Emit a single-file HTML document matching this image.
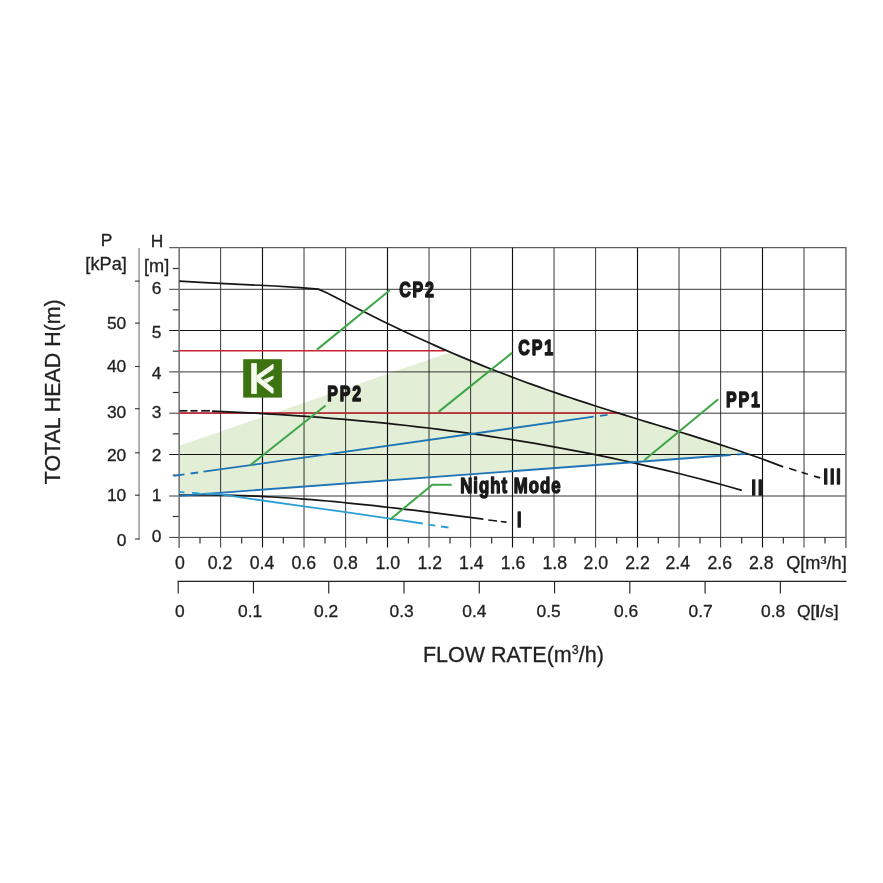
<!DOCTYPE html>
<html><head><meta charset="utf-8"><title>Pump curve</title>
<style>html,body{margin:0;padding:0;background:#fff}svg{display:block}text{filter:grayscale(1)}</style></head>
<body>
<svg width="883" height="883" viewBox="0 0 883 883">
<rect width="883" height="883" fill="#fff"/>
<polygon points="179.2,445.8 450.5,352.3 458.1,355.5 465.7,358.7 473.3,361.9 481.0,365.0 488.6,368.0 496.2,371.0 503.8,374.0 511.4,376.9 519.0,379.7 526.6,382.5 534.2,385.3 541.9,388.0 549.5,390.6 557.1,393.2 564.7,395.8 572.3,398.4 579.9,400.9 587.5,403.4 595.1,405.8 602.8,408.2 610.4,410.6 618.0,413.0 625.6,415.4 633.2,417.7 640.8,420.0 648.4,422.4 656.0,424.7 663.7,427.0 671.3,429.3 678.9,431.6 686.5,434.0 694.1,436.3 701.7,438.7 709.3,441.1 716.9,443.6 724.6,446.0 732.2,448.5 739.8,451.1 747.4,453.7 179.2,495.8" fill="#e2eed5"/>
<g fill="none">
<line x1="220.64" y1="247.8" x2="220.64" y2="547.6" stroke="#1c1c1c" stroke-width="0.88"/>
<line x1="262.50" y1="247.8" x2="262.50" y2="547.6" stroke="#111" stroke-width="1.15"/>
<line x1="304.02" y1="247.8" x2="304.02" y2="547.6" stroke="#1c1c1c" stroke-width="0.88"/>
<line x1="345.64" y1="247.8" x2="345.64" y2="547.6" stroke="#1c1c1c" stroke-width="0.88"/>
<line x1="387.50" y1="247.8" x2="387.50" y2="547.6" stroke="#111" stroke-width="1.15"/>
<line x1="429.02" y1="247.8" x2="429.02" y2="547.6" stroke="#1c1c1c" stroke-width="0.88"/>
<line x1="470.64" y1="247.8" x2="470.64" y2="547.6" stroke="#1c1c1c" stroke-width="0.88"/>
<line x1="512.50" y1="247.8" x2="512.50" y2="547.6" stroke="#111" stroke-width="1.15"/>
<line x1="554.02" y1="247.8" x2="554.02" y2="547.6" stroke="#1c1c1c" stroke-width="0.88"/>
<line x1="595.64" y1="247.8" x2="595.64" y2="547.6" stroke="#1c1c1c" stroke-width="0.88"/>
<line x1="637.50" y1="247.8" x2="637.50" y2="547.6" stroke="#111" stroke-width="1.15"/>
<line x1="679.02" y1="247.8" x2="679.02" y2="547.6" stroke="#1c1c1c" stroke-width="0.88"/>
<line x1="720.64" y1="247.8" x2="720.64" y2="547.6" stroke="#1c1c1c" stroke-width="0.88"/>
<line x1="762.50" y1="247.8" x2="762.50" y2="547.6" stroke="#111" stroke-width="1.15"/>
<line x1="804.02" y1="247.8" x2="804.02" y2="547.6" stroke="#1c1c1c" stroke-width="0.88"/>
<line x1="169.2" y1="537.40" x2="846.4" y2="537.40" stroke="#1c1c1c" stroke-width="0.88"/>
<line x1="169.2" y1="496.00" x2="846.4" y2="496.00" stroke="#1c1c1c" stroke-width="0.88"/>
<line x1="169.2" y1="454.50" x2="846.4" y2="454.50" stroke="#111" stroke-width="1.15"/>
<line x1="169.2" y1="413.20" x2="846.4" y2="413.20" stroke="#1c1c1c" stroke-width="0.88"/>
<line x1="169.2" y1="371.90" x2="846.4" y2="371.90" stroke="#1c1c1c" stroke-width="0.88"/>
<line x1="169.2" y1="330.50" x2="846.4" y2="330.50" stroke="#111" stroke-width="1.15"/>
<line x1="169.2" y1="289.30" x2="846.4" y2="289.30" stroke="#1c1c1c" stroke-width="0.88"/>
<line x1="169.2" y1="247.70" x2="846.4" y2="247.70" stroke="#1c1c1c" stroke-width="0.88"/>
</g>
<g stroke="#2a2a2a" stroke-width="1.15" fill="none">
<line x1="200.00" y1="537.2" x2="200.00" y2="543.4"/>
<line x1="241.67" y1="537.2" x2="241.67" y2="543.4"/>
<line x1="283.34" y1="537.2" x2="283.34" y2="543.4"/>
<line x1="325.00" y1="537.2" x2="325.00" y2="543.4"/>
<line x1="366.67" y1="537.2" x2="366.67" y2="543.4"/>
<line x1="408.34" y1="537.2" x2="408.34" y2="543.4"/>
<line x1="450.00" y1="537.2" x2="450.00" y2="543.4"/>
<line x1="491.67" y1="537.2" x2="491.67" y2="543.4"/>
<line x1="533.34" y1="537.2" x2="533.34" y2="543.4"/>
<line x1="575.00" y1="537.2" x2="575.00" y2="543.4"/>
<line x1="616.67" y1="537.2" x2="616.67" y2="543.4"/>
<line x1="658.34" y1="537.2" x2="658.34" y2="543.4"/>
<line x1="700.00" y1="537.2" x2="700.00" y2="543.4"/>
<line x1="741.67" y1="537.2" x2="741.67" y2="543.4"/>
<line x1="783.34" y1="537.2" x2="783.34" y2="543.4"/>
<line x1="825.00" y1="537.2" x2="825.00" y2="543.4"/>
<line x1="172.8" y1="516.50" x2="179.2" y2="516.50"/>
<line x1="172.8" y1="475.17" x2="179.2" y2="475.17"/>
<line x1="172.8" y1="433.84" x2="179.2" y2="433.84"/>
<line x1="172.8" y1="392.50" x2="179.2" y2="392.50"/>
<line x1="172.8" y1="351.17" x2="179.2" y2="351.17"/>
<line x1="172.8" y1="309.84" x2="179.2" y2="309.84"/>
<line x1="172.8" y1="268.51" x2="179.2" y2="268.51"/>
</g>
<g stroke="#787878" stroke-width="1.65" fill="none">
<line x1="179.17" y1="247.2" x2="179.17" y2="548"/>
<line x1="845.9" y1="247.2" x2="845.9" y2="548"/>
</g>
<g stroke="#8c8c8c" stroke-width="1.35" fill="none">
<line x1="139.1" y1="248" x2="139.1" y2="539.6"/>
</g>
<g stroke="#333" stroke-width="1.1" fill="none">
<line x1="135" y1="539.00" x2="139.6" y2="539.00"/>
<line x1="135" y1="495.20" x2="139.6" y2="495.20"/>
<line x1="135" y1="452.80" x2="139.6" y2="452.80"/>
<line x1="135" y1="408.70" x2="139.6" y2="408.70"/>
<line x1="135" y1="366.50" x2="139.6" y2="366.50"/>
<line x1="135" y1="323.10" x2="139.6" y2="323.10"/>
<line x1="135" y1="281.10" x2="139.6" y2="281.10"/>
</g>
<g stroke="#222" stroke-width="1.15" fill="none">
<line x1="177.7" y1="581.3" x2="846.4" y2="581.3"/>
<line x1="178.20" y1="581.3" x2="178.20" y2="593.4"/>
<line x1="253.47" y1="581.3" x2="253.47" y2="593.4"/>
<line x1="328.74" y1="581.3" x2="328.74" y2="593.4"/>
<line x1="404.01" y1="581.3" x2="404.01" y2="593.4"/>
<line x1="479.28" y1="581.3" x2="479.28" y2="593.4"/>
<line x1="554.55" y1="581.3" x2="554.55" y2="593.4"/>
<line x1="629.82" y1="581.3" x2="629.82" y2="593.4"/>
<line x1="705.09" y1="581.3" x2="705.09" y2="593.4"/>
<line x1="780.36" y1="581.3" x2="780.36" y2="593.4"/>
</g>
<g stroke="#cb2233" stroke-width="1.6" fill="none">
<line x1="179.17" y1="350.7" x2="444.70" y2="350.7"/>
<line x1="179.17" y1="413.0" x2="619.80" y2="413.0"/>
</g>
<g stroke="#161616" stroke-width="1.7" fill="none" stroke-linejoin="round">
<polyline points="179.2,281.2 205.0,282.6 240.0,284.3 275.0,286.0 300.0,287.6 318.2,289.1 318.2,289.1 326.1,292.5 334.0,296.6 341.8,300.6 349.7,304.7 357.6,308.7 365.5,312.6 373.4,316.5 381.3,320.4 389.1,324.2 397.0,328.0 404.9,331.7 412.8,335.4 420.7,339.0 428.5,342.6 436.4,346.1 444.3,349.6 452.2,353.0 460.1,356.4 467.9,359.6 475.8,362.9 483.7,366.1 491.6,369.2 499.5,372.3 507.4,375.3 515.2,378.3 523.1,381.2 531.0,384.1 538.9,386.9 546.8,389.7 554.6,392.4 562.5,395.1 570.4,397.7 578.3,400.4 586.2,402.9 594.0,405.5 601.9,408.0 609.8,410.5 617.7,412.9 625.6,415.4 633.5,417.8 641.3,420.2 649.2,422.6 657.1,425.0 665.0,427.4 672.9,429.8 680.7,432.2 688.6,434.6 696.5,437.1 704.4,439.6 712.3,442.1 720.1,444.6 728.0,447.2 735.9,449.8 743.8,452.5 751.7,455.2 759.6,458.0 767.4,460.9 775.3,463.9 783.2,466.9"/>
<line x1="789.1" y1="468.3" x2="796.4" y2="470.7"/>
<line x1="801.6" y1="472.3" x2="807.8" y2="474.2"/>
<line x1="814.0" y1="476.1" x2="820.2" y2="477.9"/>
<line x1="179.6" y1="410.8" x2="187.4" y2="410.8"/>
<line x1="190.4" y1="410.8" x2="197.6" y2="410.8"/>
<line x1="201.2" y1="410.8" x2="209.9" y2="410.8"/>
<polyline points="212.0,411.1 222.8,411.6 233.6,412.1 244.4,412.6 255.2,413.2 266.1,413.8 276.9,414.4 287.7,415.1 298.5,415.9 309.3,416.6 320.1,417.4 330.9,418.3 341.7,419.2 352.6,420.1 363.4,421.1 374.2,422.1 385.0,423.2 395.8,424.4 406.6,425.5 417.4,426.8 428.2,428.0 439.1,429.4 449.9,430.8 460.7,432.2 471.5,433.7 482.3,435.2 493.1,436.8 503.9,438.5 514.7,440.2 525.6,441.9 536.4,443.7 547.2,445.6 558.0,447.6 568.8,449.6 579.6,451.6 590.4,453.7 601.2,455.9 612.1,458.2 622.9,460.5 633.7,462.9 644.5,465.3 655.3,467.8 666.1,470.4 676.9,473.0 687.7,475.7 698.6,478.5 709.4,481.4 720.2,484.3 731.0,487.3 741.8,490.4"/>
<polyline points="179.2,495.2 187.0,495.1 194.8,495.0 202.6,495.0 210.4,495.0 218.2,495.1 226.0,495.2 233.8,495.4 241.6,495.6 249.4,495.9 257.2,496.2 265.0,496.6 272.8,497.0 280.6,497.5 288.4,498.0 296.2,498.5 304.0,499.1 311.8,499.7 319.6,500.4 327.4,501.0 335.2,501.7 343.0,502.5 350.8,503.3 358.6,504.1 366.4,504.9 374.2,505.7 382.0,506.6 389.8,507.5 397.6,508.4 405.4,509.3 413.2,510.2 421.0,511.2 428.8,512.2 436.6,513.1 444.4,514.1 452.2,515.1 460.0,516.1 467.8,517.1 475.6,518.2 483.4,519.2"/>
<line x1="488.3" y1="520.0" x2="497.1" y2="521.0"/>
<line x1="500.8" y1="521.5" x2="506.5" y2="522.2"/>
</g>
<g stroke="#1f74b6" stroke-width="1.8" fill="none">
<line x1="173.6" y1="475.9" x2="184.5" y2="474.4"/>
<line x1="190.6" y1="473.5" x2="198.1" y2="472.5"/>
<line x1="203.5" y1="471.7" x2="593.7" y2="416.7"/>
<line x1="599.9" y1="415.8" x2="607.4" y2="414.8"/>
<line x1="179.2" y1="495.8" x2="730.7" y2="455.0"/>
<line x1="737.0" y1="454.5" x2="745.6" y2="453.9"/>
</g>
<g stroke="#2c9fd6" stroke-width="1.8" fill="none">
<line x1="179" y1="491.9" x2="184.5" y2="492.4"/>
<line x1="192" y1="492.9" x2="199.4" y2="493.5"/>
<polyline points="205,493.6 220.6,494.4 262.4,500.5 304,506.3 345.7,512.2 390,518.6 422.8,523.5"/>
<line x1="428.6" y1="524.7" x2="435.3" y2="525.7"/>
<line x1="441" y1="526.5" x2="448.5" y2="527.5"/>
</g>
<g stroke="#3da647" stroke-width="2" fill="none">
<line x1="317" y1="349.6" x2="389.8" y2="290.3"/>
<line x1="438.5" y1="411.9" x2="512" y2="352.9"/>
<line x1="250.5" y1="465" x2="325.6" y2="405.5"/>
<line x1="644.2" y1="460.3" x2="718.2" y2="399.3"/>
<polyline points="389.9,519.7 432.3,484.8 451.7,484.8"/>
</g>
<rect x="243.2" y="359.2" width="38.7" height="38.4" fill="#3c7210"/>
<g fill="#f6fdf0">
<rect x="251.2" y="363.1" width="5.6" height="30.8"/>
<polygon points="256.7,375.14 272.68,363.95 273.54,363.95 273.54,369.11 260.63,378.37 273.54,388.27 273.54,393.43 271.82,393.43 256.7,381.38"/>
<polygon points="263.0,379.8 273.54,375.4 273.54,378.6 266.8,383.3"/>
</g>
<text transform="translate(399.2,297.0) scale(0.740,1)" font-family="Liberation Sans, sans-serif" font-weight="bold" font-size="21.6" letter-spacing="2.5" fill="#1a1a1a" stroke="#1a1a1a" stroke-width="1.3" vector-effect="non-scaling-stroke" stroke-linejoin="round">CP2</text>
<text transform="translate(518.3,355.3) scale(0.740,1)" font-family="Liberation Sans, sans-serif" font-weight="bold" font-size="21.6" letter-spacing="2.5" fill="#1a1a1a" stroke="#1a1a1a" stroke-width="1.3" vector-effect="non-scaling-stroke" stroke-linejoin="round">CP1</text>
<text transform="translate(327.2,401.1) scale(0.740,1)" font-family="Liberation Sans, sans-serif" font-weight="bold" font-size="21.6" letter-spacing="2.5" fill="#1a1a1a" stroke="#1a1a1a" stroke-width="1.3" vector-effect="non-scaling-stroke" stroke-linejoin="round">PP2</text>
<text transform="translate(725.9,407.0) scale(0.740,1)" font-family="Liberation Sans, sans-serif" font-weight="bold" font-size="21.6" letter-spacing="2.5" fill="#1a1a1a" stroke="#1a1a1a" stroke-width="1.3" vector-effect="non-scaling-stroke" stroke-linejoin="round">PP1</text>
<text transform="translate(460.2,493.4) scale(0.790,1)" font-family="Liberation Sans, sans-serif" font-weight="bold" font-size="21.2" letter-spacing="1.3" fill="#1a1a1a" stroke="#1a1a1a" stroke-width="1.3" vector-effect="non-scaling-stroke" stroke-linejoin="round">Night Mode</text>
<text transform="translate(517.1,526.9) scale(0.740,1)" font-family="Liberation Sans, sans-serif" font-weight="bold" font-size="21.6" letter-spacing="2.5" fill="#1a1a1a" stroke="#1a1a1a" stroke-width="1.3" vector-effect="non-scaling-stroke" stroke-linejoin="round">I</text>
<text transform="translate(751.6,495.0) scale(0.740,1)" font-family="Liberation Sans, sans-serif" font-weight="bold" font-size="21.6" letter-spacing="2.6" fill="#1a1a1a" stroke="#1a1a1a" stroke-width="1.3" vector-effect="non-scaling-stroke" stroke-linejoin="round">II</text>
<text transform="translate(823.6,483.8) scale(0.740,1)" font-family="Liberation Sans, sans-serif" font-weight="bold" font-size="21.6" letter-spacing="2.6" fill="#1a1a1a" stroke="#1a1a1a" stroke-width="1.3" vector-effect="non-scaling-stroke" stroke-linejoin="round">III</text>
<g font-family="Liberation Sans, sans-serif" font-size="17.4" fill="#222" stroke="#222" stroke-width="0.3">
<text x="156.6" y="542.4" text-anchor="middle">0</text>
<text x="156.6" y="501.0" text-anchor="middle">1</text>
<text x="156.6" y="461.0" text-anchor="middle">2</text>
<text x="156.6" y="417.9" text-anchor="middle">3</text>
<text x="156.6" y="379.3" text-anchor="middle">4</text>
<text x="156.6" y="338.4" text-anchor="middle">5</text>
<text x="156.6" y="294.3" text-anchor="middle">6</text>
<text x="126.3" y="546.0" text-anchor="end">0</text>
<text x="126.3" y="501.0" text-anchor="end">10</text>
<text x="126.3" y="461.1" text-anchor="end">20</text>
<text x="126.3" y="417.5" text-anchor="end">30</text>
<text x="126.3" y="372.2" text-anchor="end">40</text>
<text x="126.3" y="328.7" text-anchor="end">50</text>
<text x="106.6" y="245.8" text-anchor="middle">P</text>
<text x="106.1" y="270" text-anchor="middle" font-size="18.2">[kPa]</text>
<text x="157" y="247.2" text-anchor="middle">H</text>
<text x="156.7" y="272" text-anchor="middle" font-size="18.2">[m]</text>
<text x="179.8" y="568.6" text-anchor="middle" font-size="17.7">0</text>
<text x="220.0" y="568.6" text-anchor="middle" font-size="17.7">0.2</text>
<text x="262.0" y="568.6" text-anchor="middle" font-size="17.7">0.4</text>
<text x="303.8" y="568.6" text-anchor="middle" font-size="17.7">0.6</text>
<text x="345.5" y="568.6" text-anchor="middle" font-size="17.7">0.8</text>
<text x="387.8" y="568.6" text-anchor="middle" font-size="17.7">1.0</text>
<text x="429.8" y="568.6" text-anchor="middle" font-size="17.7">1.2</text>
<text x="471.4" y="568.6" text-anchor="middle" font-size="17.7">1.4</text>
<text x="513.1" y="568.6" text-anchor="middle" font-size="17.7">1.6</text>
<text x="554.8" y="568.6" text-anchor="middle" font-size="17.7">1.8</text>
<text x="595.9" y="568.6" text-anchor="middle" font-size="17.7">2.0</text>
<text x="637.5" y="568.6" text-anchor="middle" font-size="17.7">2.2</text>
<text x="677.8" y="568.6" text-anchor="middle" font-size="17.7">2.4</text>
<text x="719.7" y="568.6" text-anchor="middle" font-size="17.7">2.6</text>
<text x="761.2" y="568.6" text-anchor="middle" font-size="17.7">2.8</text>
<text x="846.8" y="568.6" text-anchor="end" font-size="18.2">Q[m³/h]</text>
<text x="179.8" y="617.2" text-anchor="middle">0</text>
<text x="250.1" y="617.2" text-anchor="middle">0.1</text>
<text x="326.1" y="617.2" text-anchor="middle">0.2</text>
<text x="401.7" y="617.2" text-anchor="middle">0.3</text>
<text x="474.4" y="617.2" text-anchor="middle">0.4</text>
<text x="548.6" y="617.2" text-anchor="middle">0.5</text>
<text x="626.2" y="617.2" text-anchor="middle">0.6</text>
<text x="700.6" y="617.2" text-anchor="middle">0.7</text>
<text x="773.2" y="617.2" text-anchor="middle">0.8</text>
<text x="838.5" y="617.2" text-anchor="end">Q[<tspan font-weight="bold">l</tspan>/s]</text>
</g>
<text x="422.9" y="662.2" font-family="Liberation Sans, sans-serif" font-size="21.5" fill="#222" stroke="#222" stroke-width="0.3">FLOW RATE(m<tspan font-size="12.5" dy="-8">3</tspan><tspan dy="8">/h)</tspan></text>
<text transform="translate(60.4,484.3) rotate(-90)" font-family="Liberation Sans, sans-serif" font-size="21.4" fill="#222" stroke="#222" stroke-width="0.3">TOTAL HEAD H(m)</text>
</svg>
</body></html>
